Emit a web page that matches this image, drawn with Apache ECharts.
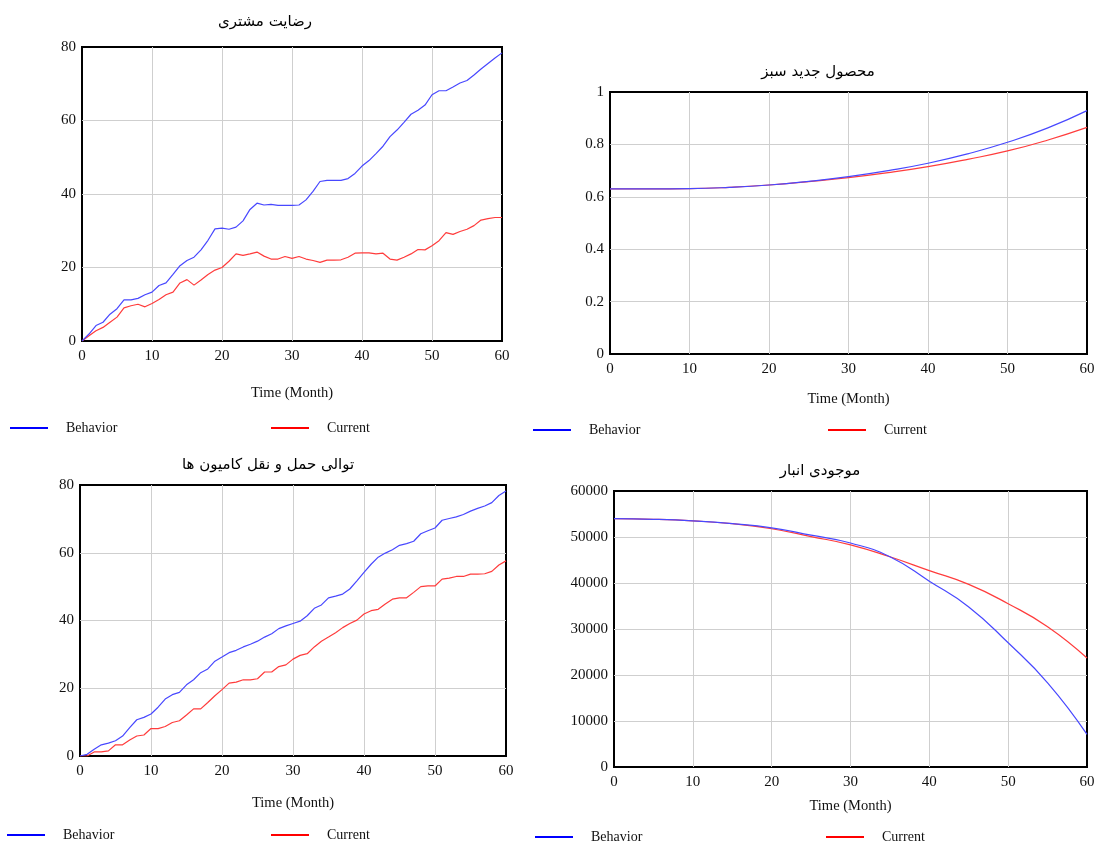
<!DOCTYPE html>
<html>
<head>
<meta charset="utf-8">
<script src="https://cdn.jsdelivr.net/npm/echarts@6/dist/echarts.min.js"></script>
<style>html,body{margin:0;padding:0;background:#fff;}#c{width:1099px;height:843px;}</style>
</head>
<body>
<div id="c"></div>
<script>
// ---- Data ----
const titles = ['رضایت مشتری', 'محصول جدید سبز', 'توالی حمل و نقل کامیون ها', 'موجودی انبار'];
const xName = 'Time (Month)';
const seriesNames = ['Behavior', 'Current'];

const months = [0,1,2,3,4,5,6,7,8,9,10,11,12,13,14,15,16,17,18,19,20,21,22,23,24,25,26,27,28,29,30,31,32,33,34,35,36,37,38,39,40,41,42,43,44,45,46,47,48,49,50,51,52,53,54,55,56,57,58,59,60];
const months5 = [0,5,10,15,20,25,30,35,40,45,50,55,60];

// رضایت مشتری (monthly)
const satBehavior = [0,1.9,4.2,5.1,7.3,8.8,11.2,11.2,11.6,12.6,13.3,15.1,15.8,18.1,20.5,21.9,22.8,24.8,27.4,30.5,30.7,30.4,31.0,32.7,35.8,37.5,37.0,37.2,36.9,36.9,36.9,37.0,38.4,40.7,43.4,43.7,43.7,43.7,44.2,45.6,47.6,49.1,51.0,53.0,55.6,57.4,59.5,61.7,62.8,64.2,67.0,68.1,68.1,69.1,70.2,70.9,72.4,74.0,75.5,77.0,78.4];
const satCurrent  = [0,1.4,2.8,3.7,5.1,6.5,9.0,9.6,10.0,9.3,10.2,11.3,12.6,13.3,15.8,16.7,15.2,16.6,18.1,19.3,20.0,21.7,23.7,23.3,23.7,24.2,23.1,22.3,22.3,23.0,22.5,23.0,22.3,21.9,21.4,22.0,22.0,22.1,22.8,23.9,24.0,24.0,23.7,23.9,22.3,22.0,22.8,23.7,24.9,24.8,25.9,27.3,29.5,29.0,29.8,30.4,31.4,32.9,33.3,33.6,33.6];

// محصول جدید سبز (every 5 months)
const greenBehavior = [0.630,0.630,0.631,0.636,0.645,0.659,0.677,0.700,0.728,0.764,0.808,0.862,0.929];
const greenCurrent  = [0.630,0.630,0.631,0.636,0.645,0.658,0.673,0.692,0.715,0.743,0.775,0.816,0.865];

// توالی حمل و نقل کامیون ها (monthly)
const truckBehavior = [0,0.5,2.0,3.3,3.8,4.5,5.9,8.4,10.7,11.4,12.4,14.4,16.8,18.1,18.8,21.0,22.5,24.6,25.7,28.0,29.2,30.5,31.2,32.2,33.0,33.9,35.1,36.1,37.6,38.4,39.1,39.8,41.4,43.6,44.6,46.7,47.2,47.8,49.3,51.7,54.2,56.6,58.7,59.9,60.9,62.2,62.7,63.4,65.6,66.5,67.3,69.6,70.1,70.6,71.3,72.3,73.1,73.8,74.8,76.9,78.2];
const truckCurrent  = [0,0,1.2,1.2,1.5,3.3,3.3,4.7,5.9,6.2,8.1,8.1,8.7,9.9,10.4,12.1,13.9,13.9,15.8,17.8,19.6,21.5,21.8,22.5,22.5,22.8,24.8,24.8,26.4,26.9,28.6,29.7,30.2,32.2,33.9,35.1,36.4,37.9,39.1,40.1,41.9,42.9,43.3,44.9,46.3,46.7,46.7,48.3,50.0,50.2,50.2,52.2,52.5,53.0,53.0,53.7,53.7,53.8,54.5,56.4,57.6];

// موجودی انبار (every 5 months)
const stockBehavior = [54000,53850,53500,52900,52000,50400,48700,45700,40400,34800,27000,18300,7100];
const stockCurrent  = [54000,53850,53500,52900,51800,50100,48300,45700,42700,39700,35500,30500,23700];

// y-axis ranges per panel [max, interval]
const yRanges = [[80,20],[1,0.2],[80,20],[60000,10000]];

// ---- Layout / style ----
const grids = [
  {left:82, top:47, width:420, height:294},
  {left:610, top:92, width:477, height:262},
  {left:80, top:485, width:426, height:271},
  {left:614, top:491, width:473, height:276}
];
const nameGaps = [45, 38, 40, 32];
const titlePos = [[265,15],[818,65],[268,458],[820,464]];
const legendPos = [
  [[10,421],[271,421]],
  [[533,423],[828,423]],
  [[7,828],[271,828]],
  [[535,830],[826,830]]
];
const FONT = "'Liberation Serif', 'DejaVu Serif', serif";
const AFONT = "'DejaVu Sans', 'Noto Sans', sans-serif";
const BLUE = '#0000ff', RED = '#ff0000';
const BLUE_L = '#4848ff', RED_L = '#ff3c3c';

function pairs(xs, ys){ return xs.map((x,i)=>[x, ys[i]]); }

const panelData = [
  [pairs(months, satBehavior), pairs(months, satCurrent), false],
  [pairs(months5, greenBehavior), pairs(months5, greenCurrent), true],
  [pairs(months, truckBehavior), pairs(months, truckCurrent), false],
  [pairs(months5, stockBehavior), pairs(months5, stockCurrent), true]
];

const option = {
  animation: false,
  backgroundColor: '#fff',
  title: titles.map((t,i)=>({
    text: t, left: titlePos[i][0], top: titlePos[i][1], textAlign: 'center', padding: 0,
    textStyle: {fontFamily: AFONT, fontSize: 15, fontWeight: 'normal', color: '#000'}
  })),
  legend: [],
  grid: grids.map(g=>Object.assign({show:true, borderColor:'#000', borderWidth:2, backgroundColor:'#fff', z:0}, g)),
  xAxis: grids.map((g,i)=>({
    type:'value', gridIndex:i, min:0, max:60, interval:10,
    name: xName, nameLocation:'middle', nameGap: nameGaps[i],
    nameTextStyle:{fontFamily:FONT, fontSize:14.5, color:'#111'},
    axisLine:{show:false}, axisTick:{show:false},
    axisLabel:{fontFamily:FONT, fontSize:15, color:'#111', margin:8, showMaxLabel:true, showMinLabel:true},
    splitLine:{show:true, showMinLine:false, showMaxLine:false, lineStyle:{color:'#cfcfcf', width:1}}
  })),
  yAxis: grids.map((g,i)=>({
    type:'value', gridIndex:i, min:0, max:yRanges[i][0], interval:yRanges[i][1],
    axisLine:{show:false}, axisTick:{show:false},
    axisLabel:{fontFamily:FONT, fontSize:15, color:'#111', margin:6, formatter: v => String(v)},
    splitLine:{show:true, showMinLine:false, showMaxLine:false, lineStyle:{color:'#cfcfcf', width:1}}
  })),
  series: []
};

panelData.forEach((p,i)=>{
  [0,1].forEach(k=>{
    option.series.push({
      type:'line', name: seriesNames[k], xAxisIndex:i, yAxisIndex:i,
      data: p[k], smooth: p[2], showSymbol:false, symbol:'none',
      z: k===0 ? 3 : 2,
      itemStyle:{color: k===0 ? BLUE : RED},
      lineStyle:{color: k===0 ? BLUE_L : RED_L, width:1.2}
    });
    option.legend.push({
      data:[seriesNames[k]], left: legendPos[i][k][0], top: legendPos[i][k][1],
      padding:0, icon:'rect', itemWidth:38, itemHeight:2, selectedMode:false,
      textStyle:{fontFamily:FONT, fontSize:14, color:'#111', padding:[0,0,0,13]}
    });
  });
});

const chart = echarts.init(document.getElementById('c'), null, {renderer:'canvas'});
chart.setOption(option);
</script>
</body>
</html>
